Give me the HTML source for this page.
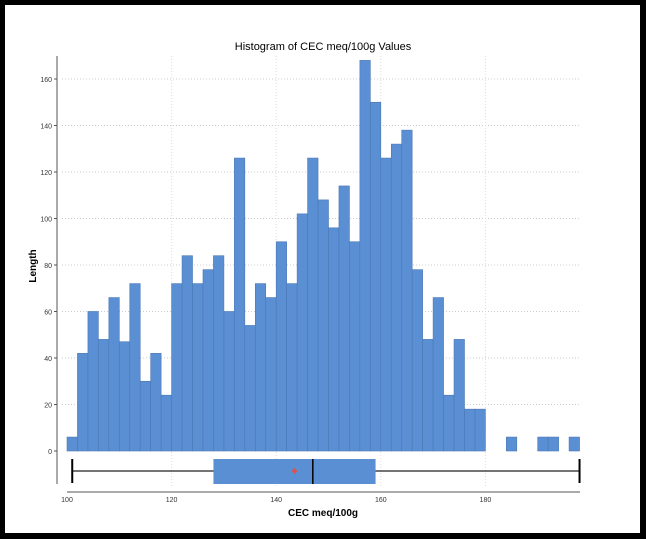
<!DOCTYPE html>
<html><head><meta charset="utf-8"><style>
body{margin:0;background:#fff;font-family:"Liberation Sans",sans-serif}
#frame{position:absolute;left:0;top:0;width:646px;height:539px;box-sizing:border-box;border:5px solid #000;border-right-width:6px;border-bottom-width:6px}
</style></head><body>
<div id="frame"></div>
<svg id="chart" width="646" height="539" style="position:absolute;left:0;top:0">
<text x="323" y="50" text-anchor="middle" font-size="11">Histogram of CEC meq/100g Values</text>
<text transform="translate(36,266) rotate(-90)" text-anchor="middle" font-size="10" font-weight="bold">Length</text>
<text x="323" y="516" text-anchor="middle" font-size="10" font-weight="bold">CEC meq/100g</text>
<g id="grid"></g><g id="bars"></g><g id="box"></g><g id="axes"></g>
</svg>
<script>
const binStart = 100;
const binWidth = 2;
const counts = [6,42,60,48,66,47,72,30,42,24,72,84,72,78,84,60,126,54,72,66,90,72,102,126,108,96,114,90,168,150,126,132,138,78,48,66,24,48,18,18,0,0,6,0,0,6,6,0,6];
const yTicks = [0,20,40,60,80,100,120,140,160];
const xTicks = [100,120,140,160,180];
const boxStats = {min:101, q1:128, median:147, q3:159, max:198, mean:143.5};

const NS='http://www.w3.org/2000/svg';
const X = v => 67 + (v-100)*5.23;
const Y = v => 451 - v*2.325;
function mk(tag, attrs, parent){const e=document.createElementNS(NS,tag);for(const k in attrs)e.setAttribute(k,attrs[k]);document.getElementById(parent).appendChild(e);return e;}

yTicks.forEach(t=>{
  if(t>0){const g=mk('line',{x1:62,x2:580,y1:Y(t),y2:Y(t),stroke:'#ccc','stroke-dasharray':'1,2','stroke-width':1},'grid');
  
  }
  const l=mk('text',{x:52,y:Y(t)+3,'text-anchor':'end','font-size':7,fill:'#333'},'axes');l.textContent=t;
  
  
  const tk=mk('line',{x1:54,x2:57,y1:Y(t),y2:Y(t),stroke:'#555'},'axes');
  
  
});
xTicks.forEach(t=>{
  if(t>100){const g=mk('line',{x1:X(t),x2:X(t),y1:56,y2:488,stroke:'#ddd','stroke-dasharray':'1,2'},'grid');
  
  }
  const l=mk('text',{x:X(t),y:502,'text-anchor':'middle','font-size':7,fill:'#333'},'axes');l.textContent=t;
  
  
});
counts.forEach((c,i)=>{
  if(c<=0)return;
  const x0=X(binStart+i*binWidth), x1=X(binStart+(i+1)*binWidth);
  const r=mk('rect',{x:x0,y:Y(c),width:x1-x0,height:Y(0)-Y(c),fill:'#5b8fd3',stroke:'#4a78b5','stroke-width':0.6},'bars');
  
  
});
const cy=471;
const wl=mk('line',{x1:X(boxStats.min),x2:X(boxStats.max),y1:cy,y2:cy,stroke:'#222','stroke-width':1.2},'box');


[boxStats.min,boxStats.max].forEach(v=>{
  const c=mk('line',{x1:X(v),x2:X(v),y1:459,y2:483,stroke:'#000','stroke-width':2},'box');
  
  
});
const bx=mk('rect',{x:X(boxStats.q1),y:459,width:X(boxStats.q3)-X(boxStats.q1),height:25,fill:'#5b8fd3'},'box');


const md=mk('line',{x1:X(boxStats.median),x2:X(boxStats.median),y1:459,y2:484,stroke:'#000','stroke-width':1.5},'box');


const mn=mk('path',{d:`M${X(boxStats.mean)} ${cy-3}l3 3l-3 3l-3 -3z`,fill:'#d9534f'},'box');


const ya=mk('line',{x1:57,x2:57,y1:56,y2:484,stroke:'#555'},'axes');


const xa=mk('line',{x1:67,x2:580,y1:492,y2:492,stroke:'#555'},'axes');


</script>
</body></html>
